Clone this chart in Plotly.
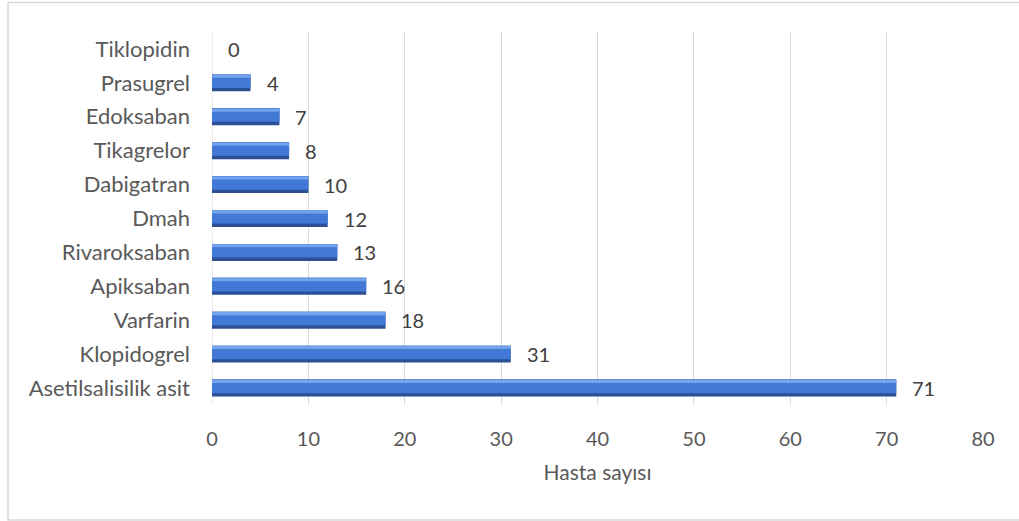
import plotly.graph_objects as go

categories = ["Asetilsalisilik asit", "Klopidogrel", "Varfarin", "Apiksaban", "Rivaroksaban",
              "Dmah", "Dabigatran", "Tikagrelor", "Edoksaban", "Prasugrel", "Tiklopidin"]
values = [71, 31, 18, 16, 13, 12, 10, 8, 7, 4, 0]
x_ticks = [0, 10, 20, 30, 40, 50, 60, 70, 80]
x_title = "Hasta sayısı"

FONT = "Lato, Open Sans, sans-serif"
fig = go.Figure()
# bevelled bar: dark base, mid body, light top strip
fig.add_trace(go.Bar(y=categories, x=values, orientation="h", width=0.5, offset=-0.25,
                     marker=dict(color="#2C5096", line=dict(width=0)), hoverinfo="skip"))
fig.add_trace(go.Bar(y=categories, x=values, orientation="h", width=0.40, offset=-0.15,
                     marker=dict(color="#4279D6", line=dict(width=0)), hoverinfo="skip"))
fig.add_trace(go.Bar(y=categories, x=values, orientation="h", width=0.09, offset=0.15,
                     marker=dict(color="#74A3EE", line=dict(width=0)), hoverinfo="skip"))

annotations = [dict(x=v, y=c, text=str(v), showarrow=False, xanchor="left", xshift=14,
                    font=dict(family=FONT, size=20, color="#404040"))
               for c, v in zip(categories, values)]

fig.update_layout(
    width=1019, height=521,
    margin=dict(l=212, r=36, t=32, b=116),
    barmode="overlay",
    showlegend=False,
    paper_bgcolor="white", plot_bgcolor="white",
    font=dict(family=FONT, size=20, color="#595959"),
    annotations=annotations,
    xaxis=dict(range=[0, 80], tickvals=x_ticks, showgrid=True, gridcolor="#D9D9D9", gridwidth=1,
               zeroline=False, showline=False, ticks="", tickfont=dict(size=20, color="#595959"),
               ticklabelstandoff=20,
               title=dict(text=x_title, font=dict(size=21, color="#595959"), standoff=16)),
    yaxis=dict(showgrid=False, zeroline=False, showline=False, ticks="",
               tickfont=dict(size=22, color="#595959"), ticklabelstandoff=21),
    shapes=[dict(type="line", xref="x", yref="paper", x0=0, x1=0, y0=0, y1=1,
                 line=dict(color="#D9D9D9", width=1), layer="below"),
            dict(type="rect", xref="paper", yref="paper",
                 x0=(8 - 212) / 771, x1=(1030 - 212) / 771,
                 y0=(405 - 520) / 373, y1=(405 - 2.5) / 373,
                 line=dict(color="#D9D9D9", width=1.5), fillcolor="rgba(0,0,0,0)")],
)

fig.write_html("out.html")
